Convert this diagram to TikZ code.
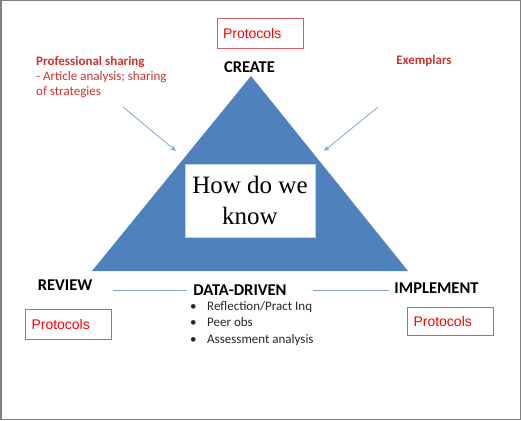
\documentclass[tikz,border=0pt]{standalone}
\usepackage{fontspec}
\setmainfont{Carlito}
\newfontfamily\serifhow{Liberation Serif}
\newfontfamily\handfont{Liberation Sans}
\usetikzlibrary{arrows.meta}
\definecolor{triblue}{HTML}{4F81BD}
\definecolor{lineblue}{HTML}{7EA6D8}
\definecolor{labred}{HTML}{D03030}
\definecolor{protred}{HTML}{FF0000}
\definecolor{protborder}{HTML}{D06060}
\definecolor{howborder}{HTML}{B9D3E5}
\definecolor{frame}{HTML}{7F7F7F}
\definecolor{bodytext}{HTML}{262626}
\tikzset{
  protobox/.style={draw=protborder, line width=0.9pt, fill=white, text width=74pt, align=left,
    inner xsep=6pt, inner ysep=0pt, minimum height=30pt,
    font=\handfont\fontsize{14}{16}\selectfont, text=protred},
  corner/.style={font=\bfseries\fontsize{16.5}{18}\selectfont, inner sep=1pt},
  redlabel/.style={text=labred, font=\fontsize{13}{15}\selectfont, align=left, inner sep=0pt},
  feed/.style={draw=lineblue, line width=0.8pt, -{Stealth[length=6pt,width=5pt]}},
  link/.style={draw=lineblue, line width=1pt},
}
\begin{document}
\begin{tikzpicture}[x=1pt,y=-1pt]
\useasboundingbox (0,0) rectangle (521,420);
\draw[frame, line width=1.5pt] (0.75,0.75) rectangle (520.25,419.25);

% triangle
\coordinate (apex) at (251,76);
\coordinate (bl) at (92,271);
\coordinate (br) at (408,271);
\fill[triblue] (apex) -- (bl) -- (br) -- cycle;

\node[draw=howborder, line width=1pt, fill=white, minimum width=130pt, minimum height=73pt,
  align=center, inner sep=0pt, font=\serifhow\fontsize{25}{31}\selectfont] (how) at (250,200.5) {How do we\\know};

% protocols boxes
\node[protobox, minimum height=30pt] (ptop) at (260,33) {Protocols};
\node[protobox, minimum height=30pt] (pleft) at (68.5,324) {Protocols};
\node[protobox, minimum height=28pt] (pright) at (450.5,321) {Protocols};

% corner labels
\node[corner] (create) at (249.5,67) {CREATE};
\node[corner] (review) at (65,285) {REVIEW};
\node[corner] (implement) at (436.5,288) {IMPLEMENT};
\node[corner] (dd) at (240,290) {DATA-DRIVEN};

\draw[link, shorten <=20pt, shorten >=5pt] (review.east |- dd.west) -- (dd.west);
\draw[link, shorten <=25pt, shorten >=4pt] (dd.east) -- (implement.west |- dd.east);

% bullets
\node[anchor=north west, inner sep=0pt, text=bodytext, font=\fontsize{13}{16.5}\selectfont, align=left] (bul) at (190,301)
  {\makebox[17pt][l]{\textbullet}Reflection/Pract Inq\\
   \makebox[17pt][l]{\textbullet}Peer obs\\
   \makebox[17pt][l]{\textbullet}Assessment analysis};

% red labels
\node[redlabel, anchor=north west] (prof) at (36,56)
  {\textbf{Professional sharing}\\- Article analysis; sharing\\of strategies};
\node[redlabel, font=\bfseries\fontsize{13}{15}\selectfont] (exem) at (424,61) {Exemplars};

% feed arrows
\coordinate (fl1) at (123,107);
\coordinate (fl2) at (176,151);
\coordinate (fr1) at (378,107);
\coordinate (fr2) at (324,151);
\draw[feed] (fl1) -- (fl2);
\draw[feed] (fr1) -- (fr2);
\end{tikzpicture}
\end{document}
